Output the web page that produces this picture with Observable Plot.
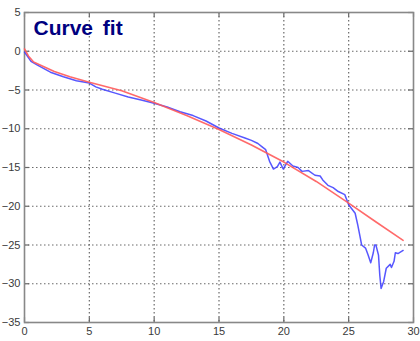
<!DOCTYPE html>
<html>
<head>
<meta charset="utf-8">
<script src="https://cdn.jsdelivr.net/npm/d3@7"></script>
<script src="https://cdn.jsdelivr.net/npm/@observablehq/plot@0.6"></script>
<style>
  html, body { margin: 0; padding: 0; background: #fff; }
  svg { display: block; }
  .title-text text { word-spacing: 4px; }
</style>
</head>
<body>
<div id="chart"></div>
<script>
const xTicks = [0, 5, 10, 15, 20, 25, 30];
const yTicks = [5, 0, -5, -10, -15, -20, -25, -30, -35];
const titleText = "Curve fit";

const measuredX = [0, 0.5, 1, 2, 3, 4, 5, 5.5, 6, 7, 8, 9, 10, 11, 12, 13, 14, 15, 16, 17, 17.5, 18, 18.3, 18.6, 18.9, 19.2, 19.5, 19.7, 19.95, 20.2, 20.3, 20.7, 21.1, 21.4, 21.9, 22.4, 22.8, 23.0, 23.4, 23.8, 24.2, 24.7, 25.0, 25.5, 25.7, 25.9, 26.0, 26.3, 26.5, 26.7, 26.9, 27.0, 27.1, 27.3, 27.4, 27.5, 27.7, 27.9, 28.2, 28.3, 28.5, 28.6, 28.8, 29.2];
const measuredY = [-0.1, -1.3, -1.8, -2.7, -3.3, -3.8, -4.1, -4.6, -4.9, -5.4, -5.9, -6.3, -6.7, -7.2, -7.8, -8.3, -9.0, -9.9, -10.6, -11.2, -11.5, -11.9, -12.3, -12.7, -14.2, -15.2, -14.9, -14.3, -15.2, -14.5, -14.2, -14.8, -15.0, -15.5, -15.4, -16.0, -16.1, -16.6, -17.3, -17.6, -18.1, -18.5, -19.8, -20.9, -22.4, -24.1, -25.0, -25.4, -26.3, -27.3, -26.0, -25.0, -25.0, -26.3, -28.9, -30.6, -29.7, -28.0, -27.5, -27.9, -27.1, -26.0, -26.1, -25.7];

const fitX = [0, 0.3, 0.7, 1.5, 2.3, 3.5, 5, 7.5, 10, 12.5, 15, 17.5, 20, 22.5, 25, 27, 29.2];
const fitY = [0.3, -0.6, -1.4, -2.0, -2.6, -3.3, -4.0, -5.1, -6.6, -8.3, -10.1, -12.1, -14.3, -16.8, -19.6, -21.9, -24.4];

const measured = measuredX.map((x, i) => ({x, y: measuredY[i]}));
const fit = fitX.map((x, i) => ({x, y: fitY[i]}));

const tickLenX = 0.38, tickLenY = 0.62;

const chart = Plot.plot({
  width: 420,
  height: 341,
  marginLeft: 24,
  marginRight: 7,
  marginTop: 12,
  marginBottom: 19,
  style: {fontFamily: "'Liberation Sans', Arial, sans-serif", fontSize: "11px", color: "#3a3a3a", background: "#fff"},
  x: {domain: [0, 30], ticks: xTicks, tickSize: 0, tickPadding: 5, label: null},
  y: {domain: [-35, 5], ticks: yTicks, tickSize: 0, tickPadding: 4, label: null},
  marks: [
    Plot.gridX(xTicks.slice(1, -1), {stroke: "#6a6a6a", strokeOpacity: 1, strokeDasharray: "1.5,2.5", strokeWidth: 1.2}),
    Plot.gridY(yTicks.slice(1, -1), {stroke: "#6a6a6a", strokeOpacity: 1, strokeDasharray: "1.5,2.5", strokeWidth: 1.2}),
    Plot.ruleX(xTicks, {x: d => d, y1: -35, y2: -35 + tickLenY, stroke: "#666", strokeWidth: 1.2}),
    Plot.ruleX(xTicks, {x: d => d, y1: 5, y2: 5 - tickLenY, stroke: "#666", strokeWidth: 1.2}),
    Plot.ruleY(yTicks, {y: d => d, x1: 0, x2: tickLenX, stroke: "#666", strokeWidth: 1.2}),
    Plot.ruleY(yTicks, {y: d => d, x1: 30, x2: 30 - tickLenX, stroke: "#666", strokeWidth: 1.2}),
    Plot.frame({stroke: "#888", strokeWidth: 1.6}),
    Plot.line(measured, {x: "x", y: "y", stroke: "#3a3aff", strokeWidth: 1.5, strokeOpacity: 0.85}),
    Plot.line(fit, {x: "x", y: "y", stroke: "#ff5a5a", strokeWidth: 1.6, strokeOpacity: 0.9}),
    Plot.text([titleText], {frameAnchor: "top-left", dx: 9, dy: 8, lineAnchor: "top", textAnchor: "start",
      fill: "#000080", fontSize: 21, fontWeight: "bold", fontFamily: "'Liberation Sans', Arial, sans-serif",
      className: "title-text"})
  ]
});
document.getElementById("chart").appendChild(chart);
</script>
</body>
</html>
